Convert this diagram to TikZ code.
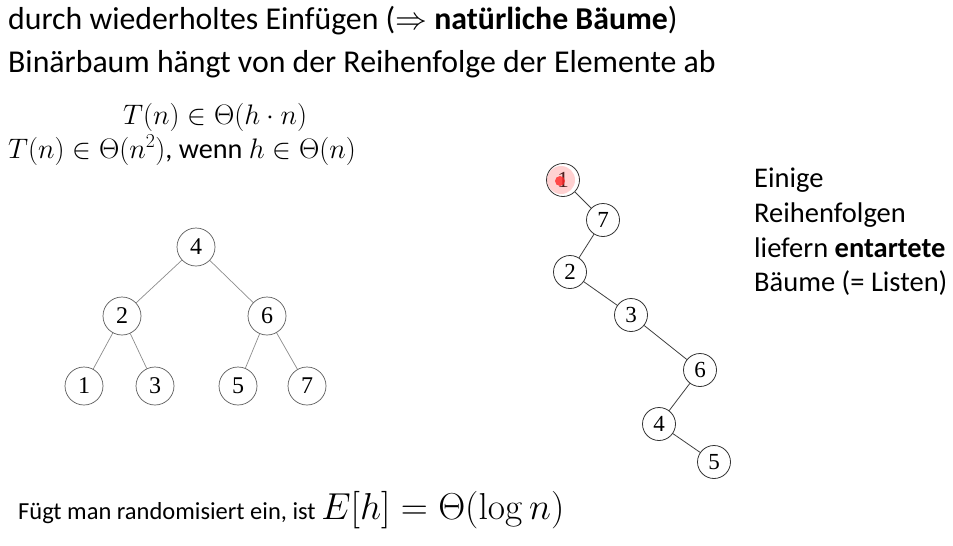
\RequirePackage{fix-cm}
\documentclass[tikz,border=0pt]{standalone}
\usepackage[no-math]{fontspec}
\setmainfont{Carlito}
\newfontfamily\treefont{Liberation Serif}
\newcommand{\largemath}[1]{{\fontsize{37.5}{38}\selectfont #1}}
\begin{document}
\begin{tikzpicture}[x=1pt,y=-1pt,
  txt/.style={anchor=base west,inner sep=0pt,text height=0.7em,text depth=0.25em,font=\fontsize{31.8}{36}\selectfont},
  mtxt/.style={anchor=base west,inner sep=0pt,font=\fontsize{28.2}{34}\selectfont},
  btxt/.style={anchor=base west,inner sep=0pt,font=\fontsize{24.5}{30}\selectfont},
  rtxt/.style={anchor=base west,inner sep=0pt,font=\fontsize{28.5}{34}\selectfont},
  tnode/.style={circle,draw=black!65,line width=0.7pt,minimum size=38pt,inner sep=0pt,font=\treefont\fontsize{24}{24}\selectfont},
  snode/.style={circle,draw=black!80,line width=0.8pt,minimum size=33pt,inner sep=0pt,font=\treefont\fontsize{23}{23}\selectfont},
  tedge/.style={draw=black!45,line width=0.7pt},
  sedge/.style={draw=black!75,line width=0.8pt}]
\useasboundingbox (0,0) rectangle (953,546);
\node[txt] (l1) at (8,29) {durch wiederholtes Einfügen ($\Rightarrow$ \textbf{natürliche Bäume})};
\node[txt] (l2) at (8,72) {Binärbaum hängt von der Reihenfolge der Elemente ab};
\node[mtxt] (m1) at (123,124) {$T(n)\in\Theta(h\cdot n)$};
\node[mtxt] (m2) at (8,158) {$T(n)\in\Theta(n^2)$, wenn $h\in\Theta(n)$};
\node[btxt] (b1) at (18,519) {Fügt man randomisiert ein, ist \largemath{$E[h]=\Theta(\log n)$}};
% left tree
\node[tnode] (a4) at (196,247) {4};
\node[tnode] (a2) at (122,316) {2};
\node[tnode] (a6) at (267,316) {6};
\node[tnode] (a1) at (84,386) {1};
\node[tnode] (a3) at (155,386) {3};
\node[tnode] (a5) at (238,386) {5};
\node[tnode] (a7) at (307,386) {7};
\draw[tedge] (a4) -- (a2);
\draw[tedge] (a4) -- (a6);
\draw[tedge] (a2) -- (a1);
\draw[tedge] (a2) -- (a3);
\draw[tedge] (a6) -- (a5);
\draw[tedge] (a6) -- (a7);
% right degenerate tree
\node[snode] (b1n) at (563,180) {1};
\node[snode] (b7) at (603,220) {7};
\node[snode] (b2) at (570,272) {2};
\node[snode] (b3) at (631,315) {3};
\node[snode] (b6) at (700,370) {6};
\node[snode] (b4) at (659,424) {4};
\node[snode] (b5) at (714,462) {5};
\draw[sedge] (b1n) -- (b7);
\draw[sedge] (b7) -- (b2);
\draw[sedge] (b2) -- (b3);
\draw[sedge] (b3) -- (b6);
\draw[sedge] (b6) -- (b4);
\draw[sedge] (b4) -- (b5);
% laser pointer dot
\fill[red!60,opacity=0.3] (b1n.center) ++(-2,0) circle (14);
\fill[red!85,opacity=0.8] (b1n.center) ++(-3,1) circle (5);
% right text
\node[rtxt] (r1) at (754,187) {Einige};
\node[rtxt] (r2) at (754,222) {Reihenfolgen};
\node[rtxt] (r3) at (754,257) {liefern \textbf{entartete}};
\node[rtxt] (r4) at (754,291) {Bäume (= Listen)};
\end{tikzpicture}
\end{document}
